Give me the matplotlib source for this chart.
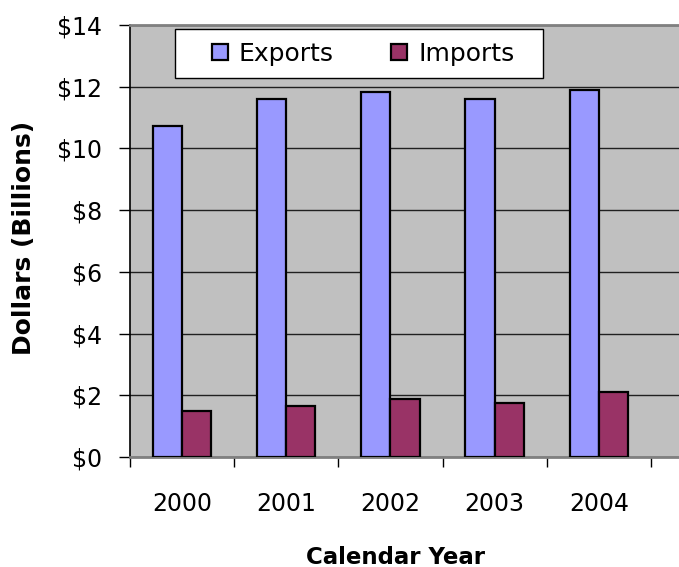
import numpy as np
import matplotlib.pyplot as plt
from matplotlib.patches import Rectangle

years = ["2000", "2001", "2002", "2003", "2004"]
exports = [10.73, 11.6, 11.83, 11.6, 11.9]
imports = [1.50, 1.66, 1.88, 1.74, 2.10]

plt.rcParams['font.family'] = ['DejaVu Sans']

fig = plt.figure(figsize=(6.79, 5.67), dpi=100)
ax = fig.add_axes([130 / 679, 1 - 457 / 567, 1 - 130 / 679, 432 / 567])
ax.set_facecolor("#C0C0C0")

x = np.arange(len(years))
w = 0.28
ax.bar(x - w / 2, exports, w, color="#9999FF", edgecolor="black", linewidth=1.6, label="Exports", zorder=3)
ax.bar(x + w / 2, imports, w, color="#993366", edgecolor="black", linewidth=1.6, label="Imports", zorder=3)

ax.set_ylim(0, 14)
ax.set_xlim(-0.5, 4.77)
ax.set_yticks(np.arange(0, 15, 2))
ax.set_yticklabels(["$%d" % v for v in range(0, 15, 2)], fontsize=17)
ax.yaxis.grid(True, color="#202020", linewidth=1.0, zorder=1)
ax.tick_params(axis="y", length=8, width=1, pad=12)

ax.set_xticks(x)
ax.set_xticklabels(years, fontsize=17)
ax.tick_params(axis="x", length=0, pad=25)
ax.set_xticks(np.arange(-0.5, 5, 1), minor=True)
ax.tick_params(axis="x", which="minor", length=7, width=1)

ax.spines["right"].set_visible(False)
ax.spines["top"].set_color("#808080")
ax.spines["top"].set_linewidth(2)
ax.spines["left"].set_linewidth(1.2)
ax.spines["bottom"].set_color("#808080")
ax.spines["bottom"].set_linewidth(2)

fig.text(24 / 679, 1 - 238 / 567, "Dollars (Billions)", rotation=90, fontsize=18,
         fontweight="bold", ha="center", va="center")
fig.text(396 / 679, 1 - 557 / 567, "Calendar Year", fontsize=16.5,
         fontweight="bold", ha="center", va="center")

# legend box
box = Rectangle((175 / 679, 1 - 78 / 567), 368 / 679, 49 / 567, transform=fig.transFigure,
                facecolor="white", edgecolor="black", linewidth=1.0, zorder=4, clip_on=False)
ax.add_patch(box)
leg = ax.legend(loc="center", ncol=2, bbox_to_anchor=(363 / 679, 1 - 54 / 567),
                bbox_transform=fig.transFigure, frameon=False, fontsize=18,
                handlelength=0.64, handleheight=0.64, handletextpad=0.44,
                columnspacing=2.3, borderpad=0, borderaxespad=0)
leg.set_zorder(5)

fig.savefig("out.png", dpi=100)
